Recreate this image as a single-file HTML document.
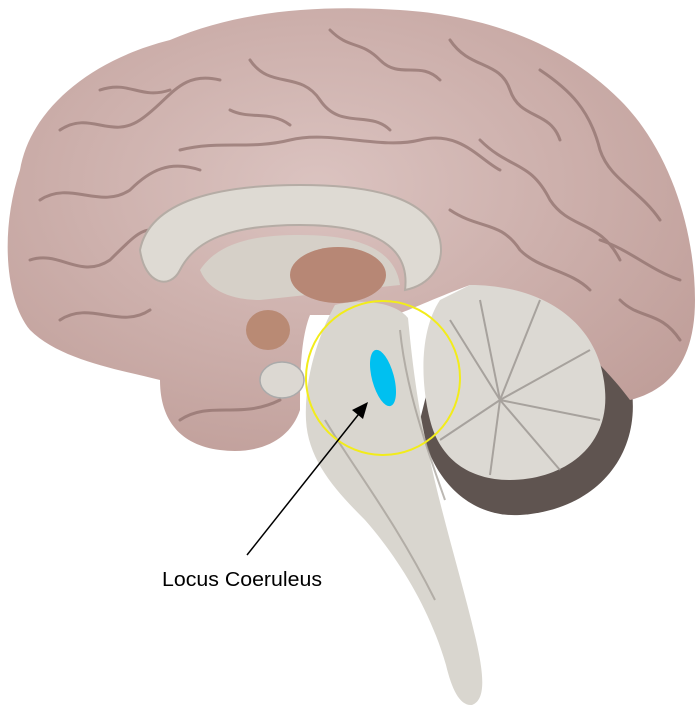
<!DOCTYPE html>
<html><head><meta charset="utf-8"><style>
html,body{margin:0;padding:0;background:#fff;width:700px;height:712px;overflow:hidden}
svg{display:block}
</style></head><body>
<svg width="700" height="712" viewBox="0 0 700 712" xmlns="http://www.w3.org/2000/svg">
<defs>
<radialGradient id="cb" cx="0.45" cy="0.4" r="0.7">
<stop offset="0" stop-color="#dbc3c0"/><stop offset="1" stop-color="#bf9d98"/>
</radialGradient>
</defs>
<!-- cerebellum dark back -->
<path d="M450 300 C520 280 610 300 630 380 C645 450 600 510 520 515 C470 518 430 480 420 420 Z" fill="#5f5450"/>
<!-- cerebrum -->
<path d="M20 170 C30 110 90 60 170 40 C240 10 320 5 400 10 C480 15 560 40 620 100 C670 150 695 230 695 300 C695 360 670 390 630 400 C600 360 540 300 470 285 C430 300 410 310 395 315 L310 315 C300 340 300 380 300 410 C290 440 260 455 220 450 C180 445 160 420 160 380 C120 370 60 360 30 330 C5 300 0 230 20 170 Z" fill="url(#cb)"/>
<!-- sulci -->
<g fill="none" stroke="#8e6f6b" stroke-width="3" stroke-linecap="round" opacity="0.7">
<path d="M60 130 C90 110 110 140 140 120 C170 100 180 70 220 80"/>
<path d="M40 200 C70 180 100 210 130 190 C150 170 170 160 200 170"/>
<path d="M30 260 C60 250 80 280 110 260 C130 240 140 230 150 230"/>
<path d="M60 320 C90 300 120 330 150 310"/>
<path d="M250 60 C270 90 300 70 320 100 C340 130 370 110 390 130"/>
<path d="M330 30 C350 50 360 40 380 60 C400 80 420 60 440 80"/>
<path d="M450 40 C470 70 500 60 510 90 C520 120 550 110 560 140"/>
<path d="M540 70 C570 90 590 110 600 150 C610 180 640 190 660 220"/>
<path d="M480 140 C510 170 530 160 550 200 C570 230 600 220 620 260"/>
<path d="M620 300 C640 320 660 310 680 340"/>
<path d="M180 150 C220 140 250 150 290 140 C330 130 380 150 420 140 C460 130 480 160 500 170"/>
<path d="M450 210 C480 230 500 220 520 250 C540 270 570 270 590 290"/>
<path d="M180 420 C210 400 240 420 280 400"/>
<path d="M100 90 C130 80 140 100 170 90"/>
<path d="M230 110 C250 120 270 110 290 125"/>
<path d="M600 240 C630 250 650 270 680 280"/>
</g>
<!-- corpus callosum -->
<path d="M140 250 C150 200 220 185 300 185 C380 185 430 200 440 240 C445 265 430 285 405 290 C410 250 380 225 300 225 C230 225 195 240 180 270 C170 290 145 285 140 250 Z" fill="#dedad3" stroke="#b5aca5" stroke-width="2"/>
<path d="M200 270 C220 240 260 235 300 235 C360 235 395 250 400 285 L260 300 C240 300 210 295 200 270 Z" fill="#d6d0c8"/>
<!-- thalamus -->
<ellipse cx="338" cy="275" rx="48" ry="28" fill="#b78775"/>
<!-- small brown & white nuclei -->
<ellipse cx="268" cy="330" rx="22" ry="20" fill="#b98a74"/>
<ellipse cx="282" cy="380" rx="22" ry="18" fill="#dcd8d2" stroke="#aaa" stroke-width="1.5"/>
<!-- cerebellum -->
<path d="M470 285 C540 285 600 320 605 390 C610 450 560 480 510 480 C470 480 440 460 430 420 C420 380 420 330 440 300 Z" fill="#dcd9d3"/>
<g fill="none" stroke="#9a9590" stroke-width="2" opacity="0.8">
<path d="M500 400 L450 320"/><path d="M500 400 L480 300"/><path d="M500 400 L540 300"/>
<path d="M500 400 L590 350"/><path d="M500 400 L600 420"/><path d="M500 400 L560 470"/>
<path d="M500 400 L490 475"/><path d="M500 400 L440 440"/>
</g>
<!-- brainstem -->
<path d="M335 305 C360 298 395 302 408 318 C412 360 418 410 428 450 C440 510 462 580 476 640 C484 675 486 700 472 705 C460 706 452 690 446 665 C430 610 400 560 365 520 C335 490 308 460 306 420 C304 380 318 335 335 305 Z" fill="#d9d6cf"/>
<g fill="none" stroke="#a19b94" stroke-width="2" opacity="0.7">
<path d="M325 420 C355 470 395 520 435 600"/>
<path d="M400 330 C405 380 420 430 445 500"/>
</g>
<!-- yellow circle -->
<circle cx="383" cy="378" r="77" fill="none" stroke="#f2ec1a" stroke-width="2"/>
<!-- locus coeruleus -->
<ellipse cx="383" cy="378" rx="11" ry="29" transform="rotate(-15 383 378)" fill="#00c0f0"/>
<!-- arrow -->
<line x1="247" y1="555" x2="362" y2="410" stroke="#000" stroke-width="1.5"/>
<polygon points="368,402 352,410 363,419" fill="#000"/>
<text x="162" y="586" font-family="Liberation Sans, sans-serif" font-size="20" textLength="160" lengthAdjust="spacingAndGlyphs" fill="#000">Locus Coeruleus</text>
</svg>
</body></html>
